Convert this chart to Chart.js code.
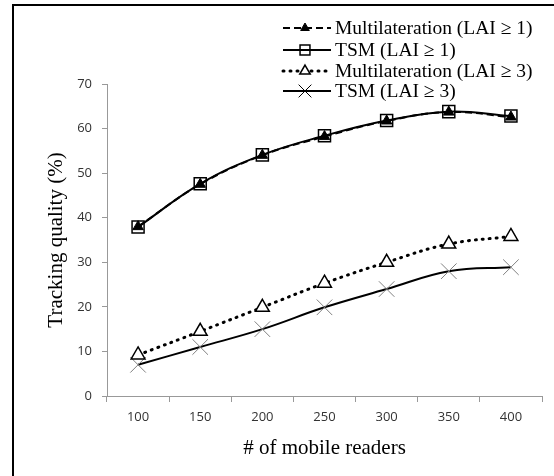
<!DOCTYPE html>
<html>
<head>
<meta charset="utf-8">
<script src="https://cdn.jsdelivr.net/npm/chart.js@4/dist/chart.umd.min.js"></script>
<style>
  body { margin: 0; background: #fff; }
</style>
</head>
<body>
<canvas id="tracking-chart" width="554" height="476"></canvas>
<script>
const readers = ['100', '150', '200', '250', '300', '350', '400'];

const multiLai1 = [38.0, 47.5, 54.0, 58.2, 61.7, 63.7, 62.6];
const tsmLai1 = [37.9, 47.6, 54.1, 58.4, 61.8, 63.8, 62.8];
const multiLai3 = [9.2, 14.5, 19.9, 25.3, 30.0, 34.1, 35.8];
const tsmLai3 = [7.0, 11.0, 15.0, 19.9, 24.0, 28.0, 28.9];

const seriesNames = [
    'Multilateration (LAI \u2265 1)',
    'TSM (LAI \u2265 1)',
    'Multilateration (LAI \u2265 3)',
    'TSM (LAI \u2265 3)'
];

const serif = '"Liberation Serif", "Times New Roman", serif';
const sans = '"Open Sans", "Liberation Sans", sans-serif';

const data = {
    labels: readers,
    datasets: [{
        label: seriesNames[0],
        data: multiLai1,
        borderColor: '#000',
        borderWidth: 2,
        borderDash: [7, 4],
        pointStyle: 'triangle',
        pointRadius: 6,
        pointBackgroundColor: '#000',
        pointBorderColor: '#000',
        pointBorderWidth: 1
    }, {
        label: seriesNames[1],
        data: tsmLai1,
        borderColor: '#000',
        borderWidth: 2,
        pointStyle: 'rect',
        pointRadius: 8.5,
        pointBackgroundColor: 'rgba(0,0,0,0)',
        pointBorderColor: '#000',
        pointBorderWidth: 1.5
    }, {
        label: seriesNames[2],
        data: multiLai3,
        borderColor: '#000',
        borderWidth: 3,
        borderDash: [1, 6],
        borderCapStyle: 'round',
        pointStyle: 'triangle',
        pointRadius: 8,
        pointBackgroundColor: '#fff',
        pointBorderColor: '#000',
        pointBorderWidth: 1.5
    }, {
        label: seriesNames[3],
        data: tsmLai3,
        borderColor: '#000',
        borderWidth: 2,
        pointStyle: 'crossRot',
        pointRadius: 11,
        pointBorderColor: '#808080',
        pointBorderWidth: 1
    }]
};

// legend drawn by hand: line sample + marker + serif text
const legendPlugin = {
    id: 'sampleLegend',
    afterDraw(chart) {
        const ctx = chart.ctx;
        const rows = [28, 50, 71, 91];
        ctx.save();
        chart.data.datasets.forEach((ds, i) => {
            const y = rows[i];
            ctx.strokeStyle = ds.borderColor;
            ctx.lineWidth = ds.borderWidth;
            ctx.lineCap = ds.borderCapStyle || 'butt';
            ctx.setLineDash(ds.borderDash || []);
            ctx.beginPath();
            ctx.moveTo(283, y);
            ctx.lineTo(331, y);
            ctx.stroke();
            ctx.setLineDash([]);
            ctx.lineCap = 'butt';
            ctx.fillStyle = ds.pointBackgroundColor || '#fff';
            ctx.strokeStyle = ds.pointBorderColor;
            ctx.lineWidth = ds.pointBorderWidth;
            let r = ds.pointRadius;
            if (ds.pointStyle === 'triangle') r = i === 0 ? 5 : 6;
            if (ds.pointStyle === 'rect') r = 7;
            if (ds.pointStyle === 'crossRot') { r = 9; ctx.strokeStyle = '#000'; }
            Chart.helpers.drawPoint(ctx, {pointStyle: ds.pointStyle, radius: r, borderWidth: ds.pointBorderWidth, rotation: 0}, 305, y);
            ctx.fillStyle = '#000';
            ctx.font = '19.5px ' + serif;
            ctx.textBaseline = 'middle';
            ctx.textAlign = 'left';
            ctx.fillText(ds.label, 335, y + 1);
        });
        // frame edges
        ctx.strokeStyle = '#000';
        ctx.lineWidth = 2;
        ctx.beginPath();
        ctx.moveTo(13, 476);
        ctx.lineTo(13, 5);
        ctx.lineTo(554, 5);
        ctx.stroke();
        ctx.restore();
    }
};

const config = {
    type: 'line',
    data: data,
    options: {
        responsive: false,
        animation: false,
        devicePixelRatio: 1,
        layout: {
            padding: {left: 0, top: 84, right: 7, bottom: 0}
        },
        elements: {
            line: { tension: 0.4, fill: false }
        },
        plugins: {
            legend: { display: false },
            tooltip: { enabled: false }
        },
        scales: {
            x: {
                offset: true,
                grid: {
                    offset: true,
                    drawOnChartArea: false,
                    tickLength: 6,
                    color: '#999'
                },
                border: { color: '#999', width: 1 },
                ticks: {
                    color: '#333',
                    padding: 7,
                    font: { family: sans, size: 13 }
                },
                title: {
                    display: true,
                    text: '# of mobile readers',
                    color: '#000',
                    font: { family: serif, size: 21 },
                    padding: { top: 0, bottom: 15 }
                },
                afterFit(scale) { scale.height = 80; }
            },
            y: {
                min: 0,
                max: 70,
                ticks: {
                    stepSize: 10,
                    color: '#333',
                    padding: 10,
                    font: { family: sans, size: 13 }
                },
                grid: {
                    drawOnChartArea: false,
                    tickLength: 5,
                    color: '#999'
                },
                border: { color: '#999', width: 1 },
                title: {
                    display: true,
                    text: 'Tracking quality (%)',
                    color: '#000',
                    font: { family: serif, size: 21 },
                    padding: { top: 44, bottom: 0 }
                },
                afterFit(scale) { scale.width = 107; }
            }
        }
    },
    plugins: [legendPlugin]
};

let obj = document.getElementById('tracking-chart');
let trackingChart = new Chart(obj, config);
</script>
</body>
</html>
